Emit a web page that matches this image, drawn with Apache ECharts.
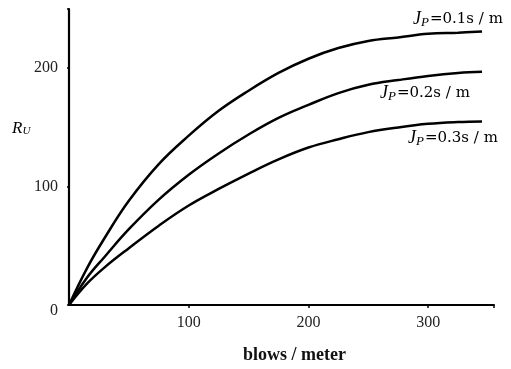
<!DOCTYPE html>
<html>
<head>
<meta charset="utf-8">
<script src="https://cdn.jsdelivr.net/npm/echarts@6/dist/echarts.min.js"></script>
<style>
html,body{margin:0;padding:0;background:#fff;}
#c{width:511px;height:369px;}
</style>
</head>
<body>
<div id="c"></div>
<script>
// blows / meter
var blows = [0, 15, 30, 50, 75, 100, 125, 150, 175, 200, 225, 250, 275, 300, 325, 345];
// R_U for J_P = 0.1 s/m
var jp01 = [0, 31, 57, 88, 119, 143, 164, 181, 196, 208, 217, 223, 226, 229, 230, 231];
// R_U for J_P = 0.2 s/m
var jp02 = [0, 23, 41, 64, 89, 110, 128, 144, 158, 169, 179, 186, 190, 193.5, 196, 197];
// R_U for J_P = 0.3 s/m
var jp03 = [0, 18, 32, 48, 67, 84, 98, 111, 123, 133, 140, 146, 150, 153, 154.5, 155];
var seriesNames = ['J_P=0.1s / m', 'J_P=0.2s / m', 'J_P=0.3s / m'];
var xTicks = [100, 200, 300];
var yTicks = [0, 100, 200];

function pairs(v){ return blows.map(function(b,i){ return [b, v[i]]; }); }

var serif = 'Liberation Serif, DejaVu Serif, serif';
var wideSerif = 'DejaVu Serif, Liberation Serif, serif';
var chart = echarts.init(document.getElementById('c'), null, {renderer:'canvas'});

function lineSeries(name, vals){
  return {
    name: name, type: 'line', smooth: 0.4, symbol: 'none',
    data: pairs(vals),
    lineStyle: {color: '#000', width: 2.5}
  };
}

var rich = {
  j: {fontFamily: serif, fontStyle: 'italic', fontSize: 18, color: '#111'},
  p: {fontFamily: serif, fontStyle: 'italic', fontSize: 13, color: '#111', padding: [7, 1, 0, 0]},
  t: {fontFamily: wideSerif, fontSize: 15, color: '#111'}
};
function jpLabel(v){ return '{j|J}{p|P}{t|=' + v + 's / m}'; }

chart.setOption({
  animation: false,
  backgroundColor: '#fff',
  grid: {left: 69, right: 17, top: 9, bottom: 64},
  xAxis: {
    type: 'value', min: 0, max: 355, interval: 100,
    axisLine: {lineStyle: {color: '#000', width: 2}},
    axisTick: {show: true, length: 3, lineStyle: {color: '#000', width: 1.5}},
    splitLine: {show: false},
    axisLabel: {
      margin: 10, fontFamily: serif, fontSize: 16, color: '#222',
      showMinLabel: false,
      formatter: function(v){ return xTicks.indexOf(v) >= 0 ? String(v) : ''; }
    }
  },
  yAxis: {
    type: 'value', min: 0, max: 250, interval: 100,
    axisLine: {show: true, lineStyle: {color: '#000', width: 2.2}},
    axisTick: {show: true, length: 2, lineStyle: {color: '#000', width: 1.5}},
    splitLine: {show: false},
    axisLabel: {
      margin: 11, fontFamily: serif, fontSize: 16, color: '#222',
      formatter: function(v){
        if (v === 0) return '{z|0}';
        return yTicks.indexOf(v) >= 0 ? String(v) : '';
      },
      rich: {z: {fontFamily: serif, fontSize: 16, color: '#222', padding: [12, 0, 0, 0]}}
    }
  },
  series: [lineSeries(seriesNames[0], jp01), lineSeries(seriesNames[1], jp02), lineSeries(seriesNames[2], jp03)],
  graphic: [
    {type: 'text', left: 413, top: 10, style: {text: jpLabel('0.1'), rich: rich}},
    {type: 'text', left: 380, top: 84, style: {text: jpLabel('0.2'), rich: rich}},
    {type: 'text', left: 408, top: 129, style: {text: jpLabel('0.3'), rich: rich}},
    {type: 'text', left: 12, top: 120, style: {text: '{r|R}{u|U}', rich: {
      r: {fontFamily: serif, fontStyle: 'italic', fontSize: 17, color: '#111'},
      u: {fontFamily: serif, fontStyle: 'italic', fontSize: 11, color: '#111', padding: [6, 0, 0, 0]}
    }}},
    {type: 'text', left: 243, top: 346, style: {text: 'blows / meter', fontFamily: serif, fontWeight: 'bold', fontSize: 18, fill: '#111'}}
  ]
});
</script>
</body>
</html>
